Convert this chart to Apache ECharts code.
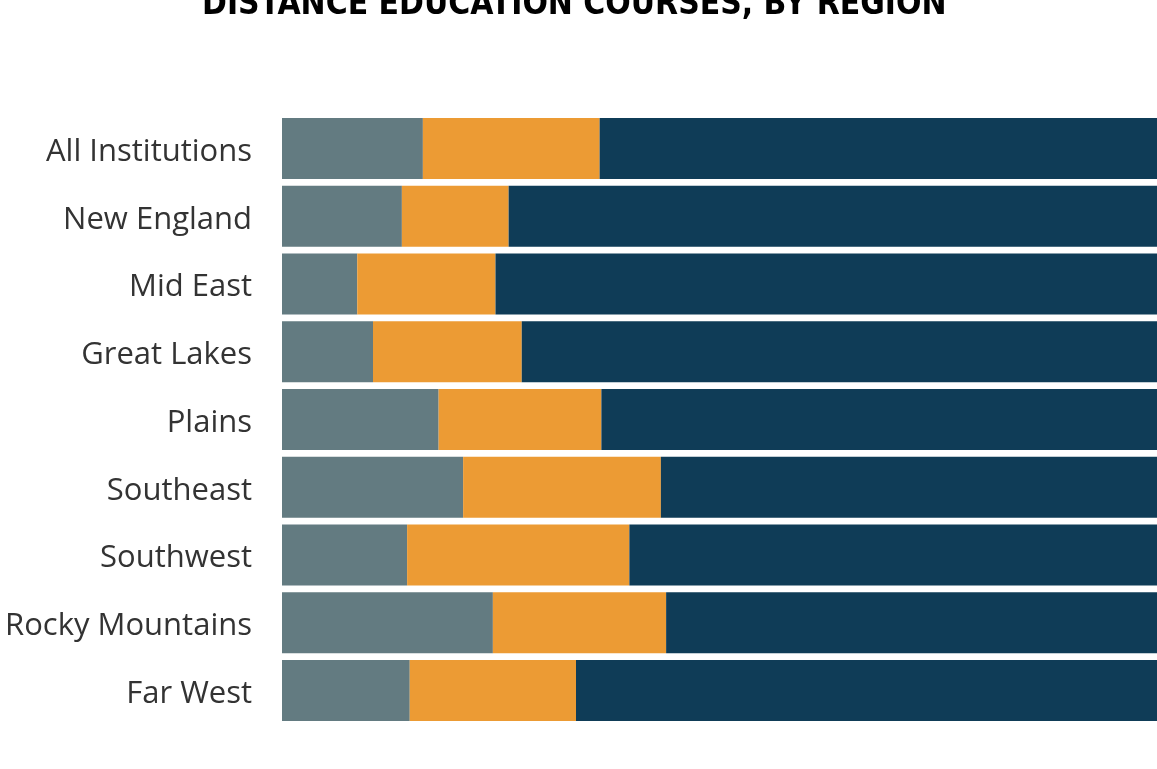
<!DOCTYPE html>
<html><head><meta charset="utf-8">
<script src="https://cdn.jsdelivr.net/npm/echarts@6/dist/echarts.min.js"></script>
<style>html,body{margin:0;padding:0;background:#fff}#c{width:1157px;height:769px}</style>
</head><body><div id="c"></div>
<script>
const categories = ["All Institutions","New England","Mid East","Great Lakes","Plains","Southeast","Southwest","Rocky Mountains","Far West"];
const seriesA = [16.1,13.7,8.6,10.4,17.9,20.7,14.3,24.1,14.6];
const seriesB = [20.2,12.2,15.8,17.0,18.6,22.6,25.4,19.8,19.0];
const seriesC = [63.7,74.1,75.6,72.6,63.5,56.7,60.3,56.1,66.4];
const titleText = "DISTANCE EDUCATION COURSES, BY REGION";

const chart = echarts.init(document.getElementById('c'));
const common = {type:'bar', stack:'t', barCategoryGap:'10%', silent:true};
chart.setOption({
  animation:false,
  title:{text:titleText,left:197,top:-16,textStyle:{fontFamily:'DejaVu Sans Condensed',fontWeight:'bold',fontSize:33.3,color:'#000'}},
  grid:{left:282,right:0,top:114.6,bottom:44.6,containLabel:false,outerBoundsMode:'none'},
  xAxis:{type:'value',min:0,max:100,show:false},
  yAxis:{type:'category',data:categories,inverse:true,
    axisLine:{show:false},axisTick:{show:false},
    axisLabel:{margin:30,formatter:v=>'{a|'+v+'}',
      rich:{a:{fontFamily:'Open Sans',fontSize:31,color:'#333',padding:[7,0,0,0]}}}},
  series:[
    Object.assign({name:'A',data:seriesA,itemStyle:{color:'#637b81'}},common),
    Object.assign({name:'B',data:seriesB,itemStyle:{color:'#ec9b34'}},common),
    Object.assign({name:'C',data:seriesC,itemStyle:{color:'#0f3c57'}},common)
  ]
});
</script></body></html>
